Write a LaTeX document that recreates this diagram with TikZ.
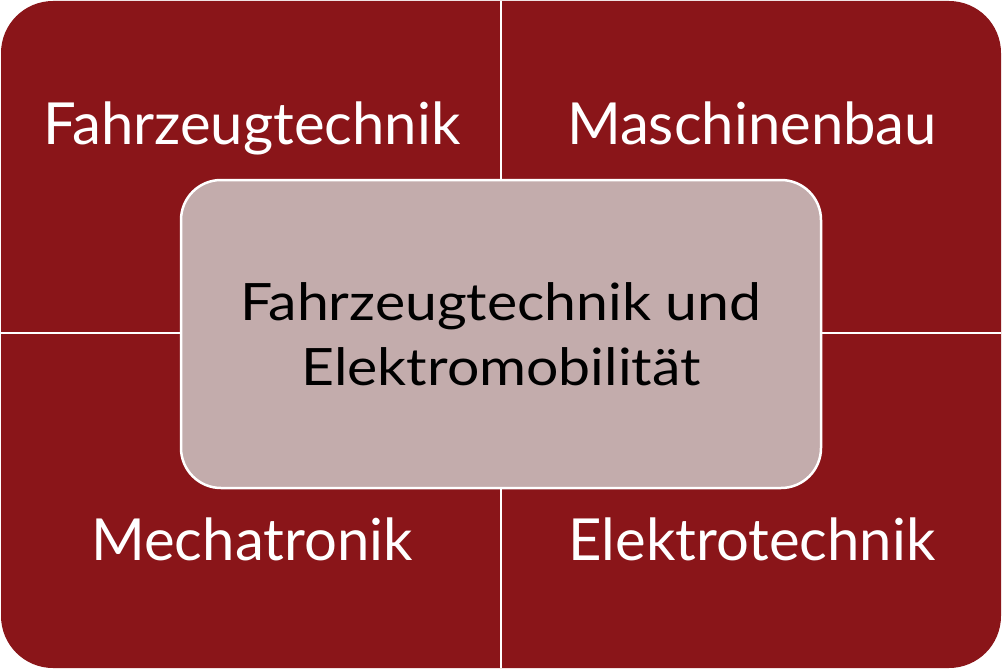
\documentclass[tikz,border=0pt]{standalone}
\usepackage{fontspec}
\setmainfont{Lato}
\newfontfamily\corefont[FakeStretch=1.11]{Lato}
\definecolor{fieldred}{HTML}{8A1519}
\definecolor{corerose}{HTML}{C3ACAC}
\def\outerbox{(1,1) rectangle (1001,668)}
\def\corebox{(181,180) rectangle (821,488)}

\begin{document}
\begin{tikzpicture}[x=1pt,y=-1pt,
	field/.style={text=white,anchor=base,font=\fontsize{58}{70}\selectfont},
	core/.style={text=black,align=center,anchor=base,font=\corefont\fontsize{51.5}{65}\selectfont}]
			\useasboundingbox (0,0) rectangle (1002,669);
			\fill[fieldred,rounded corners=52pt] \outerbox;
			\draw[white,line width=2.5pt] (501,1) -- (501,668);
			\draw[white,line width=2.5pt] (1,333) -- (1001,333);
			\fill[corerose,draw=white,line width=2.5pt,rounded corners=40pt] \corebox;
			\node[field] (fzt) at (252,144) {Fahrzeugtechnik};
			\node[field] (mb) at (752,144) {Maschinenbau};
			\node[field] (mt) at (252,560) {Mechatronik};
			\node[field] (et) at (752,560) {Elektrotechnik};
			\node[core] (fem) at (501,385) {Fahrzeugtechnik und\\Elektromobilität};
		\end{tikzpicture}
\end{document}
